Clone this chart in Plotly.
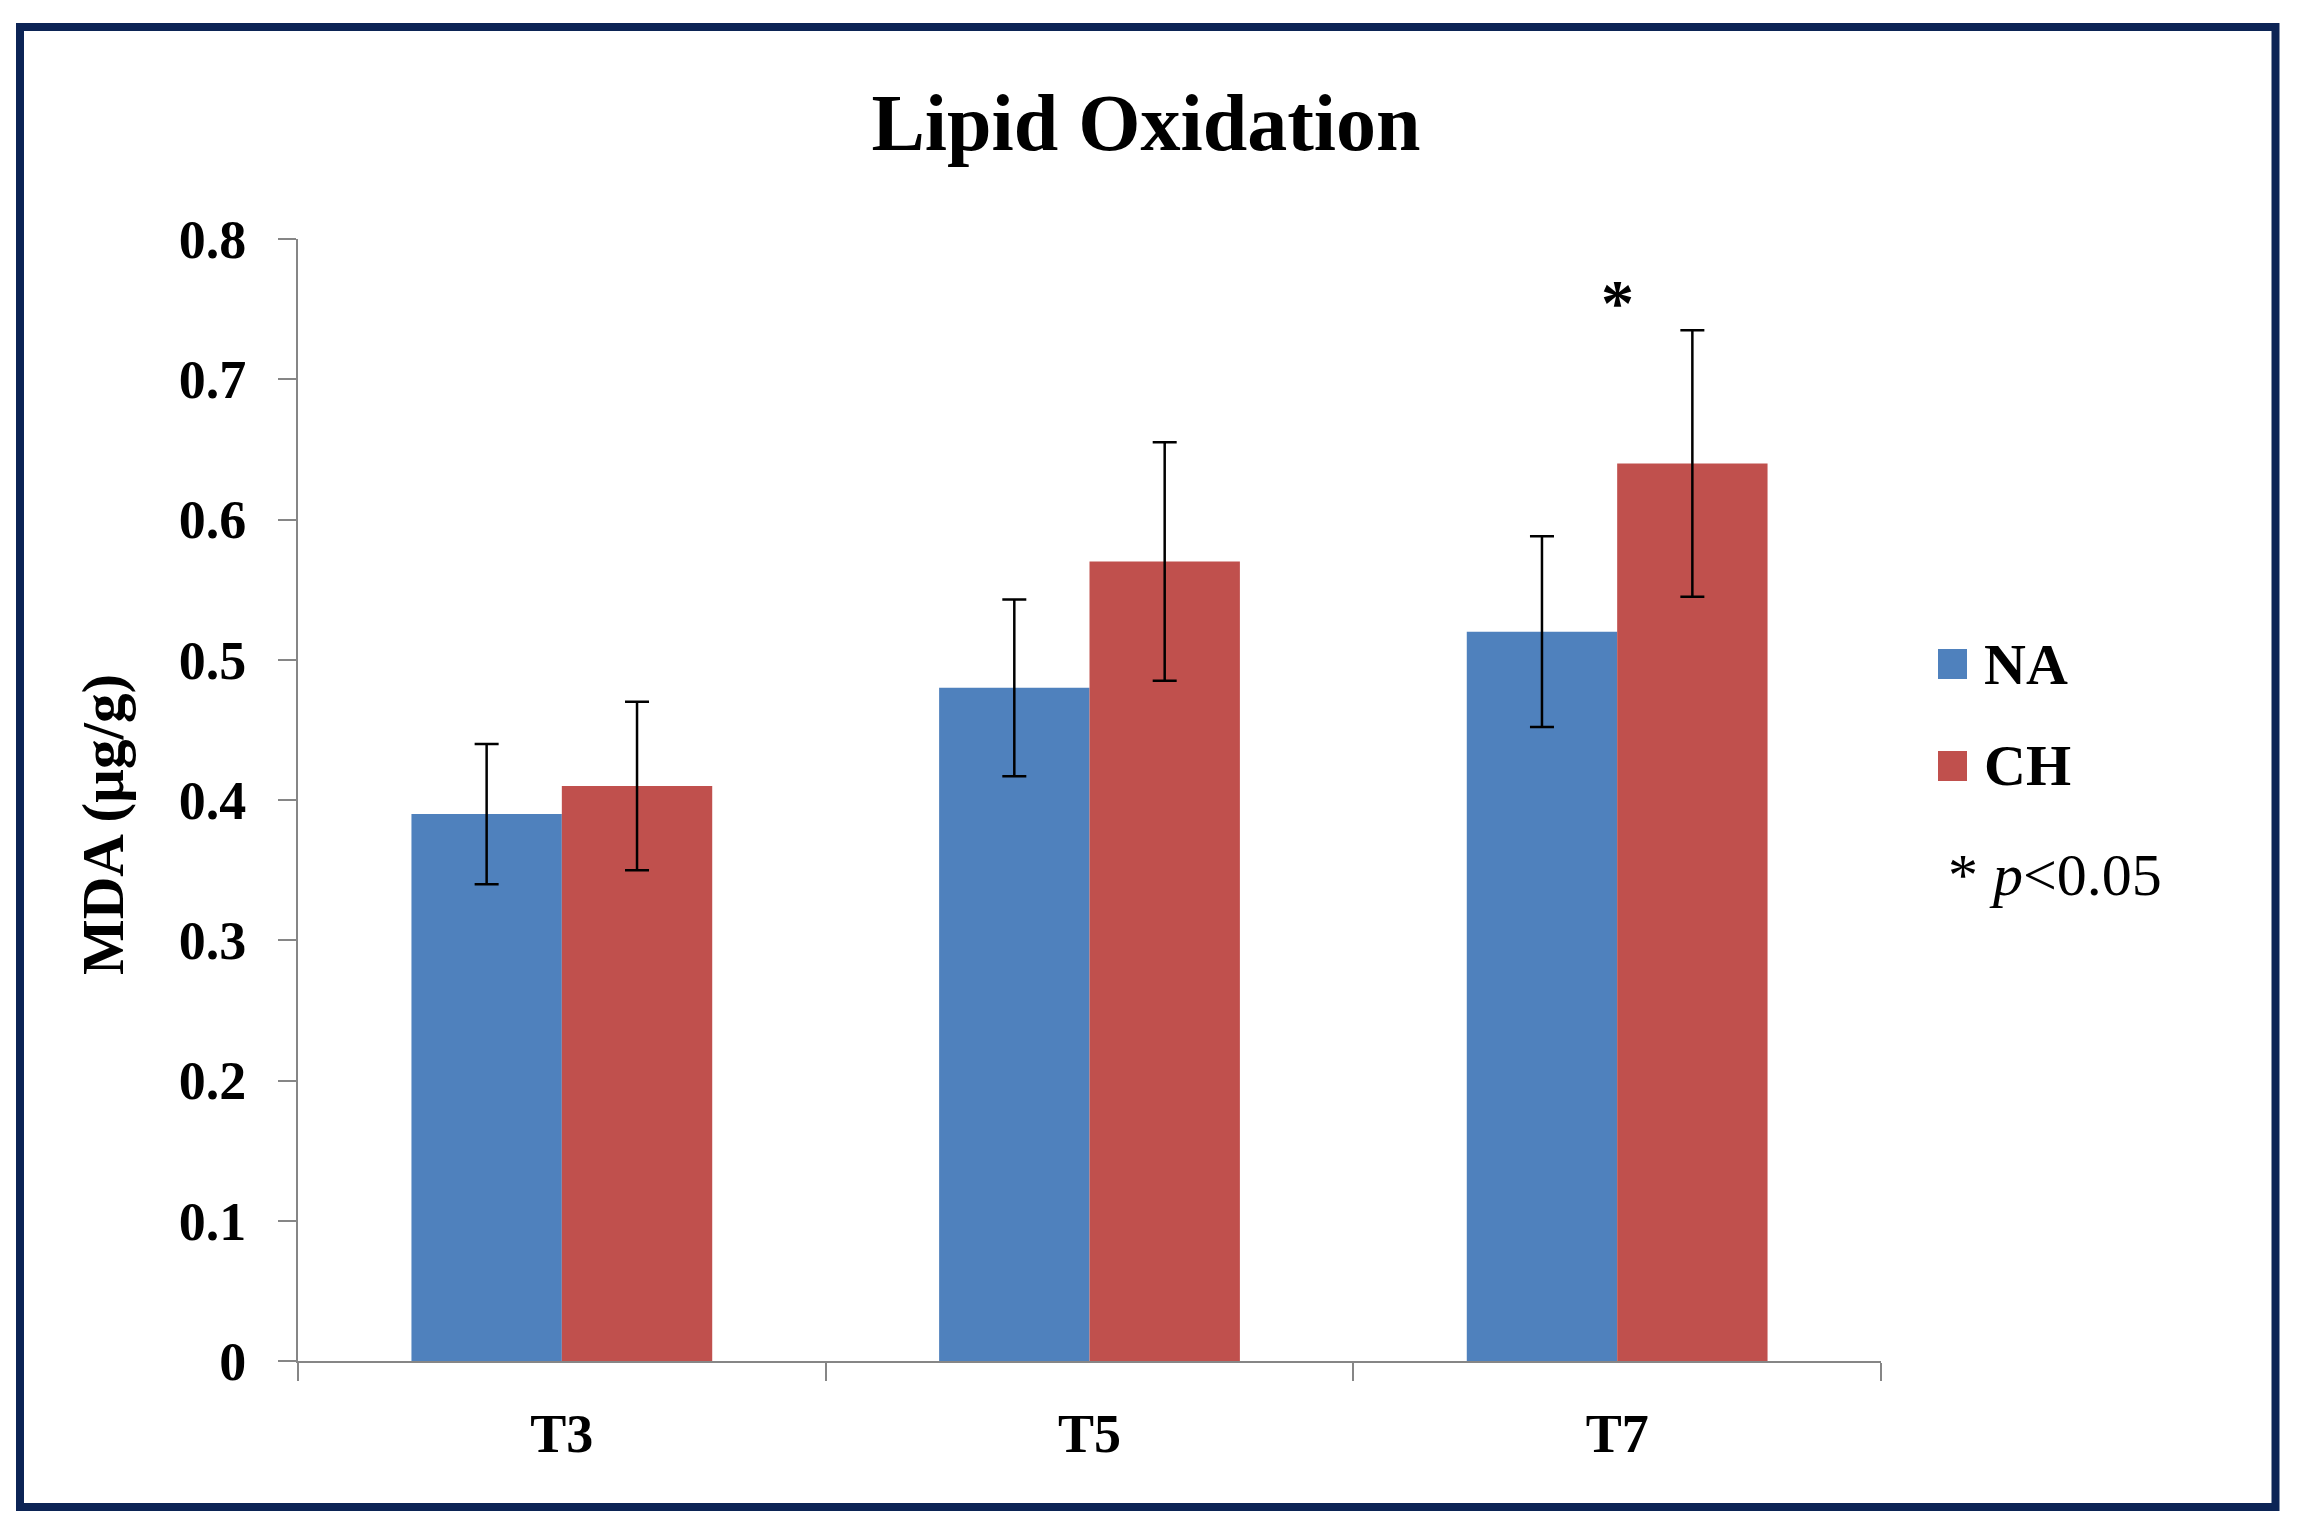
import plotly.graph_objects as go

# ---------------- data ----------------
categories = ["T3", "T5", "T7"]
na_values = [0.39, 0.48, 0.52]
na_errors = [0.05, 0.063, 0.068]
ch_values = [0.41, 0.57, 0.64]
ch_errors = [0.06, 0.085, 0.095]
y_tick_values = [0, 0.1, 0.2, 0.3, 0.4, 0.5, 0.6, 0.7, 0.8]
y_tick_labels = ["0", "0.1", "0.2", "0.3", "0.4", "0.5", "0.6", "0.7", "0.8"]
series_names = ["NA", "CH"]
significant_category = "T7"

# ---------------- layout helpers ----------------
W, H = 2299, 1535
L, R, T, B = 298, 1881, 239, 1361
FONT = "Liberation Serif, Times New Roman, serif"
NA_COLOR = "#4f81bd"
CH_COLOR = "#c0504d"
AXIS_COLOR = "#868686"
FRAME_COLOR = "#0c2455"


def px(x):
    return (x - L) / (R - L)


def py(y):
    return (B - y) / (B - T)


def ydata(pix):
    return (B - pix) / (B - T) * 0.8


fig = go.Figure()
fig.add_trace(go.Bar(
    x=categories, y=na_values, name=series_names[0],
    marker=dict(color=NA_COLOR, line=dict(width=0)),
    error_y=dict(type="data", array=na_errors, color="black", thickness=2.5, width=12),
    showlegend=False,
))
fig.add_trace(go.Bar(
    x=categories, y=ch_values, name=series_names[1],
    marker=dict(color=CH_COLOR, line=dict(width=0)),
    error_y=dict(type="data", array=ch_errors, color="black", thickness=2.5, width=12),
    showlegend=False,
))

shapes = [
    # outer frame
    dict(type="rect", xref="paper", yref="paper",
         x0=px(20), x1=px(2275.5), y0=py(1507), y1=py(27),
         line=dict(color=FRAME_COLOR, width=8), fillcolor="rgba(0,0,0,0)", layer="above"),
    # legend swatches
    dict(type="rect", xref="paper", yref="paper",
         x0=px(1938), x1=px(1967), y0=py(679), y1=py(649),
         line=dict(width=0), fillcolor=NA_COLOR),
    dict(type="rect", xref="paper", yref="paper",
         x0=px(1938), x1=px(1967), y0=py(781), y1=py(751),
         line=dict(width=0), fillcolor=CH_COLOR),
]

annotations = [
    dict(text=series_names[0], xref="paper", yref="paper", x=px(1982), y=py(664),
         xanchor="left", yanchor="middle", showarrow=False,
         font=dict(family=FONT, size=58, color="black", weight="bold")),
    dict(text=series_names[1], xref="paper", yref="paper", x=px(1982), y=py(765),
         xanchor="left", yanchor="middle", showarrow=False,
         font=dict(family=FONT, size=58, color="black", weight="bold")),
    dict(text="* <i>p</i>&lt;0.05", xref="paper", yref="paper", x=px(1946), y=py(875),
         xanchor="left", yanchor="middle", showarrow=False,
         font=dict(family=FONT, size=60, color="black")),
    dict(text="*", xref="x", yref="y", x=significant_category, y=ydata(302),
         xanchor="center", yanchor="middle", showarrow=False,
         font=dict(family=FONT, size=66, color="black", weight="bold")),
    # y-axis title
    dict(text="MDA (µg/g)", xref="paper", yref="paper", x=px(103), y=py(825),
         xanchor="center", yanchor="middle", textangle=-90, showarrow=False,
         font=dict(family=FONT, size=59, color="black", weight="bold")),
]

fig.update_layout(
    width=W, height=H,
    margin=dict(l=L, r=W - R, t=T, b=H - B, pad=0),
    paper_bgcolor="white", plot_bgcolor="white",
    barmode="group", bargap=0.43, bargroupgap=0,
    title=dict(text="Lipid Oxidation", x=1146 / W, xref="container",
               y=1 - 122 / H, yanchor="middle", xanchor="center",
               font=dict(family=FONT, size=80, color="black", weight="bold")),
    xaxis=dict(
        type="category", range=[-0.5, 2.5],
        showline=True, linecolor=AXIS_COLOR, linewidth=2,
        ticks="outside", tickson="boundaries", ticklen=18, tickwidth=2, tickcolor=AXIS_COLOR,
        showgrid=False, zeroline=False,
        tickfont=dict(family=FONT, size=54, color="black", weight="bold"),
        ticklabelstandoff=24,
    ),
    yaxis=dict(
        range=[0, 0.8], tickvals=y_tick_values, ticktext=y_tick_labels,
        showline=True, linecolor=AXIS_COLOR, linewidth=2,
        ticks="outside", ticklen=18, tickwidth=2, tickcolor=AXIS_COLOR,
        showgrid=False, zeroline=False,
        tickfont=dict(family=FONT, size=54, color="black", weight="bold"),
        ticklabelstandoff=21,
    ),
    shapes=shapes,
    annotations=annotations,
)

fig.write_html("out.html", config={"displayModeBar": False},
               post_script="document.body.style.margin='0px';")
